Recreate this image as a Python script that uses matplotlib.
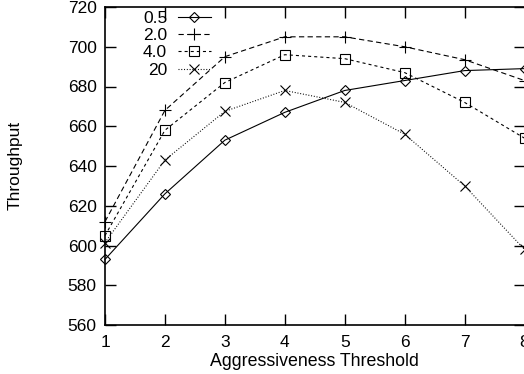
import matplotlib
matplotlib.use("Agg")
import matplotlib.pyplot as plt

plt.rcParams['font.family'] = ['Liberation Sans', 'DejaVu Sans']
plt.rcParams['lines.scale_dashes'] = False

thresholds = [1, 2, 3, 4, 5, 6, 7, 8]
series_labels = ["0.5", "2.0", "4.0", "20"]
tp_05 = [593, 626, 653, 667, 678, 683, 688, 689]
tp_20 = [612, 668, 695, 705, 705, 700, 693.5, 683]
tp_40 = [605, 658, 682, 696, 694, 687, 672, 654]
tp_200 = [601.5, 643, 667.5, 678, 672, 656, 630, 598]
yticks = [560, 580, 600, 620, 640, 660, 680, 700, 720]

W, H = 524, 374
fig = plt.figure(figsize=(W / 100, H / 100), dpi=100)
left, right, top, bottom = 105, 524.5, 7, 325
ax = fig.add_axes([left / W, (H - bottom) / H, (right - left) / W, (bottom - top) / H])

lw = 0.8
styles = [
    dict(marker='D', linestyle='-', ms=5, mfc='none'),
    dict(marker='+', linestyle=(0, (3.8, 2.4)), ms=8, mfc='none'),
    dict(marker='s', linestyle=(0, (2.2, 2.2)), ms=6.5, mfc='none'),
    dict(marker='x', linestyle=(0, (0.7, 1.3)), ms=6.5, mfc='none'),
]
handles = []
for ys, lab, st in zip([tp_05, tp_20, tp_40, tp_200], series_labels, styles):
    h, = ax.plot(thresholds, ys, color='black', lw=lw, mew=0.8, mec='black',
                 label=lab, clip_on=False, **st)
    handles.append(h)

ax.set_xlim(1, 8)
ax.set_ylim(560, 720)
ax.set_xticks(thresholds)
ax.set_yticks(yticks)
ax.tick_params(direction='in', length=8, width=1, top=True, right=True,
               labelsize=12.5, pad=6)
ax.tick_params(axis='x', pad=7)
for s in ax.spines.values():
    s.set_linewidth(1.2)

ax.set_xlabel("Aggressiveness Threshold", fontsize=12.8, labelpad=2)
fig.text(15 / W, 1 - 165 / H, "Throughput", rotation=90, fontsize=12.5,
         ha='center', va='center')

leg = ax.legend(handles=handles, loc='upper left', markerfirst=False,
                frameon=False, fontsize=12.5, handlelength=1.9,
                labelspacing=0.12, borderaxespad=0, handletextpad=0.6,
                bbox_to_anchor=((136 - left) / (right - left), 1.01))

fig.savefig("out.png", dpi=100)
